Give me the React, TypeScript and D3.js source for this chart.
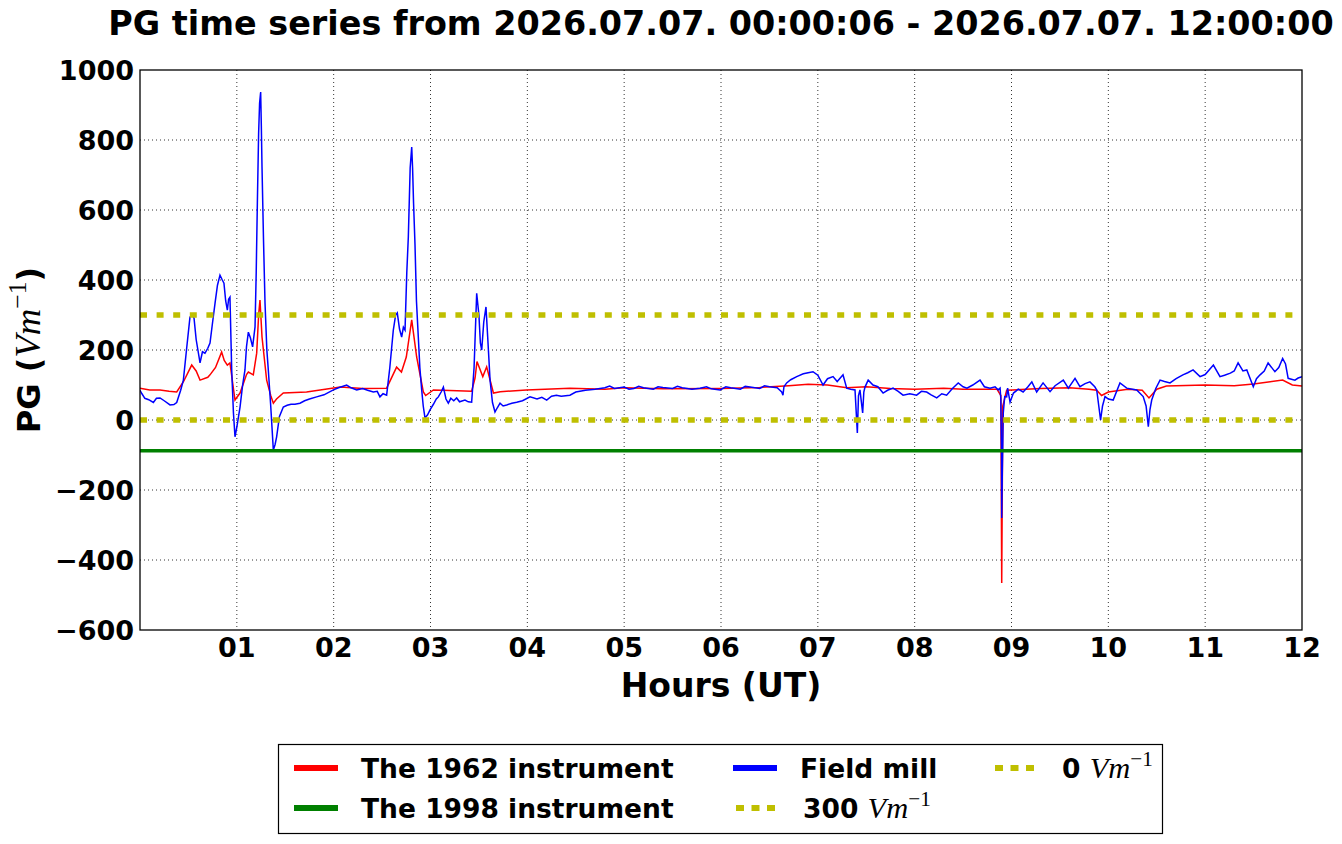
import * as d3 from 'd3';

const W = 1342;
const H = 844;
const plot = {left: 140, right: 1302, top: 70, bottom: 630};

const titleText = 'PG time series from 2026.07.07. 00:00:06 - 2026.07.07. 12:00:00';
const hourTicks = [1, 2, 3, 4, 5, 6, 7, 8, 9, 10, 11, 12];
const hourLabels = ['01', '02', '03', '04', '05', '06', '07', '08', '09', '10', '11', '12'];
const pgTicks = [-600, -400, -200, 0, 200, 400, 600, 800, 1000];
const refLevels = [300, 0];

// [hour, PG]
const instr1962 = [
  [0, 91], [0.1, 86], [0.207, 86], [0.3, 82], [0.379, 80], [0.45, 110], [0.534, 157], [0.58, 140],
  [0.62, 114], [0.7, 122], [0.723, 129], [0.78, 150], [0.843, 194], [0.87, 170], [0.902, 157],
  [0.929, 163], [0.95, 120], [0.981, 57], [1.033, 77], [1.1, 130], [1.119, 137], [1.17, 129],
  [1.205, 191], [1.225, 300], [1.239, 343], [1.26, 237], [1.308, 114], [1.35, 70], [1.377, 48],
  [1.41, 60], [1.48, 77], [1.72, 80], [2.07, 94], [2.3, 90], [2.547, 91], [2.65, 151], [2.7, 137],
  [2.75, 180], [2.806, 286], [2.857, 180], [2.926, 80], [2.95, 70], [3.03, 86], [3.2, 84],
  [3.425, 82], [3.46, 120], [3.48, 167], [3.54, 124], [3.58, 152], [3.65, 77], [3.72, 81],
  [3.99, 86], [4.44, 91], [4.8, 88], [5.0, 92], [5.4, 89], [6.0, 90], [6.4, 93], [6.7, 98],
  [6.9, 102], [7.1, 100], [7.3, 92], [7.5, 95], [7.75, 90], [8.0, 88], [8.3, 91], [8.5, 88],
  [8.85, 88], [8.89, 70], [8.899, -466], [8.91, 40], [8.95, 85], [9.3, 90], [9.6, 92], [9.8, 88],
  [9.88, 85], [9.93, 70], [10.0, 80], [10.2, 88], [10.35, 85], [10.42, 63], [10.5, 88], [10.6, 97],
  [11.0, 100], [11.3, 98], [11.5, 103], [11.8, 114], [11.9, 100], [12, 97],
];

const instr1998 = [[0, -88], [12, -88]];

const fieldMill = [
  [0, 85], [0.02, 75], [0.05, 62], [0.09, 58], [0.138, 50], [0.17, 62], [0.207, 63], [0.25, 55],
  [0.31, 43], [0.35, 44], [0.379, 50], [0.42, 85], [0.448, 114], [0.48, 200], [0.516, 294],
  [0.54, 300], [0.558, 291], [0.58, 230], [0.62, 163], [0.645, 195], [0.671, 191], [0.7, 205],
  [0.723, 220], [0.75, 280], [0.775, 334], [0.8, 385], [0.826, 414], [0.85, 400], [0.867, 391],
  [0.885, 340], [0.902, 314], [0.915, 345], [0.929, 351], [0.947, 143], [0.965, 20], [0.981, -48],
  [1.0, -20], [1.033, 37], [1.06, 100], [1.084, 143], [1.1, 210], [1.119, 251], [1.14, 235],
  [1.163, 209], [1.188, 266], [1.2, 420], [1.212, 620], [1.225, 820], [1.235, 905], [1.246, 937],
  [1.253, 840], [1.26, 723], [1.275, 520], [1.291, 334], [1.31, 200], [1.325, 143], [1.35, 40],
  [1.377, -86], [1.395, -70], [1.411, -48], [1.44, 10], [1.48, 37], [1.52, 42], [1.56, 45],
  [1.6, 45], [1.652, 48], [1.7, 55], [1.75, 60], [1.824, 66], [1.9, 72], [1.997, 86], [2.05, 92],
  [2.134, 100], [2.18, 92], [2.238, 86], [2.3, 90], [2.35, 85], [2.41, 80], [2.45, 82],
  [2.478, 66], [2.51, 75], [2.547, 71], [2.58, 150], [2.616, 257], [2.64, 300], [2.657, 306],
  [2.68, 260], [2.702, 237], [2.72, 265], [2.737, 257], [2.755, 420], [2.771, 523], [2.79, 720],
  [2.806, 780], [2.815, 720], [2.825, 620], [2.84, 500], [2.855, 340], [2.874, 237], [2.89, 150],
  [2.909, 86], [2.925, 40], [2.943, 6], [2.97, 15], [2.995, 29], [3.03, 45], [3.06, 60],
  [3.081, 66], [3.11, 80], [3.133, 94], [3.16, 60], [3.184, 48], [3.21, 62], [3.24, 55],
  [3.27, 63], [3.3, 52], [3.356, 57], [3.39, 52], [3.425, 51], [3.45, 150], [3.477, 362],
  [3.5, 300], [3.515, 220], [3.529, 200], [3.55, 280], [3.573, 323], [3.59, 240], [3.615, 114],
  [3.64, 50], [3.666, 23], [3.69, 35], [3.718, 48], [3.75, 40], [3.787, 43], [3.84, 48],
  [3.89, 51], [3.95, 55], [4.028, 66], [4.1, 60], [4.15, 65], [4.2, 57], [4.25, 68], [4.3, 71],
  [4.35, 68], [4.44, 71], [4.5, 80], [4.6, 85], [4.7, 88], [4.8, 92], [4.85, 97], [4.9, 90],
  [5.0, 94], [5.05, 88], [5.1, 90], [5.15, 96], [5.2, 92], [5.3, 88], [5.35, 95], [5.4, 93],
  [5.5, 90], [5.55, 96], [5.6, 92], [5.7, 88], [5.783, 91], [5.85, 95], [5.9, 89], [5.99, 86],
  [6.05, 95], [6.1, 92], [6.2, 88], [6.25, 96], [6.3, 94], [6.4, 90], [6.45, 98], [6.5, 95],
  [6.58, 92], [6.627, 80], [6.64, 71], [6.65, 95], [6.678, 106], [6.72, 115], [6.782, 124],
  [6.85, 132], [6.9, 135], [6.95, 138], [7.0, 128], [7.054, 100], [7.1, 118], [7.157, 124],
  [7.2, 110], [7.26, 129], [7.298, 91], [7.34, 88], [7.384, 86], [7.408, -37], [7.42, 70],
  [7.435, 86], [7.463, 20], [7.475, 80], [7.487, 94], [7.52, 114], [7.57, 100], [7.62, 95],
  [7.674, 77], [7.72, 85], [7.777, 91], [7.83, 82], [7.88, 71], [7.95, 75], [8.02, 71], [8.07, 82],
  [8.124, 80], [8.17, 72], [8.228, 63], [8.28, 75], [8.33, 71], [8.39, 90], [8.45, 106],
  [8.5, 95], [8.54, 91], [8.6, 100], [8.675, 114], [8.72, 95], [8.778, 91], [8.83, 95],
  [8.862, 86], [8.882, 91], [8.89, 60], [8.897, -100], [8.899, -280], [8.905, -150], [8.915, 20],
  [8.93, 67], [8.95, 66], [8.96, 91], [8.985, 51], [9.02, 77], [9.07, 88], [9.12, 80], [9.17, 95],
  [9.21, 109], [9.26, 80], [9.326, 106], [9.398, 81], [9.45, 98], [9.535, 114], [9.587, 91],
  [9.656, 119], [9.707, 95], [9.76, 104], [9.81, 109], [9.86, 95], [9.88, 86], [9.92, 0],
  [9.94, 40], [9.966, 67], [10.0, 60], [10.05, 57], [10.12, 106], [10.19, 91], [10.25, 88],
  [10.293, 86], [10.36, 67], [10.39, 40], [10.413, -19], [10.43, 30], [10.448, 57], [10.49, 90],
  [10.534, 114], [10.58, 110], [10.637, 106], [10.7, 118], [10.77, 129], [10.82, 135],
  [10.875, 143], [10.947, 124], [11.0, 130], [11.085, 157], [11.153, 124], [11.2, 128],
  [11.26, 134], [11.3, 140], [11.34, 163], [11.39, 140], [11.43, 143], [11.497, 95], [11.53, 118],
  [11.567, 129], [11.61, 140], [11.65, 163], [11.72, 138], [11.76, 150], [11.8, 176], [11.83, 160],
  [11.857, 119], [11.9, 116], [11.927, 114], [11.96, 120], [12.0, 124],
];

const RED = '#ff0000';
const GREEN = '#008000';
const BLUE = '#0000ff';
const YELLOW = '#bfbf00';
const SANS = 'DejaVu Sans';
const MATH = 'Liberation Serif';

const x = d3.scaleLinear().domain([0, 12]).range([plot.left, plot.right]);
const y = d3.scaleLinear().domain([-600, 1000]).range([plot.bottom, plot.top]);

const line = d3
  .line<number[]>()
  .x((d) => x(d[0]))
  .y((d) => y(d[1]));

// "Vm^-1" in math style
const Unit = ({size}: {size: number}) => (
  <>
    <tspan fontFamily={MATH} fontStyle='italic' fontWeight='normal' fontSize={size * 1.15}>
      Vm
    </tspan>
    <tspan fontFamily={MATH} fontWeight='normal' fontSize={size * 0.8} dy={-size * 0.45}>
      −1
    </tspan>
  </>
);

const App = () => {
  const legendRows = [
    {x: 294, y: 768, kind: 'solid', color: RED, label: 'The 1962 instrument'},
    {x: 294, y: 808, kind: 'solid', color: GREEN, label: 'The 1998 instrument'},
    {x: 733, y: 768, kind: 'solid', color: BLUE, label: 'Field mill'},
    {x: 736, y: 808, kind: 'dot', color: YELLOW, label: '300'},
    {x: 995, y: 768, kind: 'dot', color: YELLOW, label: '0'},
  ];

  return (
    <div style={{position: 'absolute', left: 0, top: 0}}>
      <svg width={W} height={H} style={{display: 'block', background: '#fff'}}>
        <defs>
          <clipPath id='plotClip'>
            <rect x={plot.left} y={plot.top} width={plot.right - plot.left} height={plot.bottom - plot.top} />
          </clipPath>
        </defs>

        {/* grid */}
        <g stroke='#000' strokeWidth={0.8} strokeDasharray='1,3'>
          {hourTicks.slice(0, -1).map((h) => (
            <line key={'gx' + h} x1={x(h)} x2={x(h)} y1={plot.top} y2={plot.bottom} />
          ))}
          {pgTicks.slice(1, -1).map((v) => (
            <line key={'gy' + v} x1={plot.left} x2={plot.right} y1={y(v)} y2={y(v)} />
          ))}
        </g>

        <g clipPath='url(#plotClip)' fill='none'>
          <path d={line(instr1962)!} stroke={RED} strokeWidth={1.5} />
          <path d={line(fieldMill)!} stroke={BLUE} strokeWidth={1.5} />
          <path d={line(instr1998)!} stroke={GREEN} strokeWidth={3.5} />
          {refLevels.map((v) => (
            <line
              key={'ref' + v}
              x1={plot.left}
              x2={plot.right}
              y1={y(v)}
              y2={y(v)}
              stroke={YELLOW}
              strokeWidth={5.5}
              strokeDasharray='7,9.6'
            />
          ))}
        </g>

        <rect
          x={plot.left}
          y={plot.top}
          width={plot.right - plot.left}
          height={plot.bottom - plot.top}
          fill='none'
          stroke='#000'
          strokeWidth={1.3}
        />

        {/* y ticks */}
        <g fontFamily={SANS} fontWeight='bold' fontSize={27} textAnchor='end'>
          {pgTicks.map((v) => (
            <text key={'ty' + v} x={plot.left - 6} y={y(v)} dy='0.36em'>
              {v < 0 ? '−' + Math.abs(v) : String(v)}
            </text>
          ))}
        </g>

        {/* x ticks */}
        <g fontFamily={SANS} fontWeight='bold' fontSize={27} textAnchor='middle'>
          {hourTicks.map((h, i) => (
            <text key={'tx' + h} x={x(h)} y={657}>
              {hourLabels[i]}
            </text>
          ))}
        </g>

        <text x={(plot.left + plot.right) / 2} y={35} textAnchor='middle' fontFamily={SANS} fontWeight='bold' fontSize={33.4}>
          {titleText}
        </text>

        <text x={(plot.left + plot.right) / 2} y={697} textAnchor='middle' fontFamily={SANS} fontWeight='bold' fontSize={33}>
          Hours (UT)
        </text>

        <text
          transform={`translate(40, ${(plot.top + plot.bottom) / 2}) rotate(-90)`}
          textAnchor='middle'
          fontFamily={SANS}
          fontWeight='bold'
          fontSize={32}
        >
          PG (<Unit size={32} />
          <tspan dy={32 * 0.45}>)</tspan>
        </text>

        {/* legend */}
        <rect x={278.5} y={744.5} width={884} height={89} fill='#fff' stroke='#000' strokeWidth={1.2} />
        {legendRows.map((r) => (
          <g key={r.label}>
            {r.kind === 'solid' ? (
              <line x1={r.x} x2={r.x + 44} y1={r.y} y2={r.y} stroke={r.color} strokeWidth={6} />
            ) : (
              <line
                x1={r.x}
                x2={r.x + 40}
                y1={r.y}
                y2={r.y}
                stroke={r.color}
                strokeWidth={6}
                strokeDasharray='8,7.5'
              />
            )}
            <text x={r.x + 67} y={r.y} dy='0.36em' fontFamily={SANS} fontWeight='bold' fontSize={26.5}>
              {r.label}
              {r.kind === 'dot' ? (
                <>
                  {' '}
                  <Unit size={26.5} />
                </>
              ) : null}
            </text>
          </g>
        ))}
      </svg>
    </div>
  );
};

export default App;
